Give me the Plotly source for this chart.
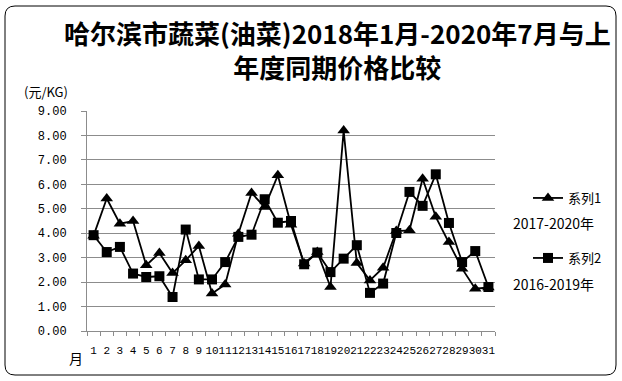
import plotly.graph_objects as go

months = list(range(1, 32))
month_labels = [str(m) for m in months]
series1_name = "系列1"
series2_name = "系列2"
series1 = [3.90, 5.42, 4.39, 4.50, 2.69, 3.19, 2.37, 2.89, 3.48, 1.53, 1.90, 3.98, 5.65, 5.07, 6.37, 4.35,
           2.76, 3.23, 1.80, 8.20, 2.78, 2.07, 2.59, 4.09, 4.12, 6.23, 4.67, 3.64, 2.55, 1.73, 1.78]
series2 = [3.92, 3.23, 3.44, 2.35, 2.21, 2.24, 1.39, 4.15, 2.11, 2.11, 2.82, 3.85, 3.94, 5.39, 4.43, 4.50,
           2.73, 3.21, 2.41, 2.96, 3.51, 1.56, 1.94, 4.01, 5.69, 5.12, 6.41, 4.42, 2.82, 3.27, 1.80]
y_ticks = [0, 1, 2, 3, 4, 5, 6, 7, 8, 9]

W, H = 622, 381
L, R, T, B = 87, 495, 111, 331


def px(X):
    return (X - L) / (R - L)


def py(Y):
    return (B - Y) / (B - T)


CJK = "Noto Sans CJK SC"
MONO = "Liberation Mono"

fig = go.Figure()
fig.add_trace(go.Scatter(
    x=months, y=series1, name=series1_name, mode="lines+markers",
    line=dict(color="black", width=1.8),
    marker=dict(symbol="triangle-up", size=11, color="black"),
    legend="legend",
))
fig.add_trace(go.Scatter(
    x=months, y=series2, name=series2_name, mode="lines+markers",
    line=dict(color="black", width=1.8),
    marker=dict(symbol="square", size=10, color="black"),
    legend="legend2",
))

grid = "#8c8c8c"
fig.update_layout(
    width=W, height=H,
    margin=dict(l=L, r=W - R, t=T, b=H - B, autoexpand=False),
    paper_bgcolor="white", plot_bgcolor="white",
    font=dict(family=CJK, color="black", size=12),
    showlegend=True,
    legend=dict(x=px(528), y=py(198), xanchor="left", yanchor="middle",
                font=dict(family=CJK, size=13, color="black"),
                bgcolor="rgba(0,0,0,0)", itemwidth=30),
    legend2=dict(x=px(528), y=py(258), xanchor="left", yanchor="middle",
                 font=dict(family=CJK, size=13, color="black"),
                 bgcolor="rgba(0,0,0,0)", itemwidth=30),
    xaxis=dict(
        range=[0.5, 31.5], tickmode="array", tickvals=months, ticktext=month_labels,
        tickangle=0, ticks="", showgrid=False, zeroline=False,
        showline=True, linecolor=grid, linewidth=1,
        tickfont=dict(family=MONO, size=11, color="black"),
        ticklabelstandoff=9,
        minor=dict(tickmode="linear", tick0=0.5, dtick=1, ticks="outside",
                   ticklen=4, tickcolor=grid, showgrid=False),
    ),
    yaxis=dict(
        range=[0, 9], tickmode="array", tickvals=y_ticks, tickformat=".2f",
        ticks="outside", ticklen=5, tickcolor=grid,
        showgrid=True, gridcolor=grid, gridwidth=1, zeroline=False,
        showline=True, linecolor=grid, linewidth=1,
        tickfont=dict(family=MONO, size=12, color="black"),
        ticklabelstandoff=12,
    ),
)

# outer rounded border
x0, x1, y0, y1, r = 5, 616, 6, 375, 10
path = (f"M {px(x0 + r)},{py(y0)} L {px(x1 - r)},{py(y0)} Q {px(x1)},{py(y0)} {px(x1)},{py(y0 + r)} "
        f"L {px(x1)},{py(y1 - r)} Q {px(x1)},{py(y1)} {px(x1 - r)},{py(y1)} "
        f"L {px(x0 + r)},{py(y1)} Q {px(x0)},{py(y1)} {px(x0)},{py(y1 - r)} "
        f"L {px(x0)},{py(y0 + r)} Q {px(x0)},{py(y0)} {px(x0 + r)},{py(y0)} Z")
fig.add_shape(type="path", path=path, xref="paper", yref="paper",
              line=dict(color="black", width=1), layer="above")

title1 = "哈尔滨市蔬菜(油菜)2018年1月-2020年7月与上"
title2 = "年度同期价格比较"
anns = [
    dict(text=f"<b>{title1}</b><br><b>{title2}</b>", x=px(337), y=py(49),
         font=dict(family=CJK, size=26)),
    dict(text="(元/KG)", x=px(46), y=py(91), font=dict(family=CJK, size=13)),
    dict(text="月", x=px(76), y=py(358), font=dict(family=CJK, size=14)),
    dict(text="2017-2020年", x=px(553), y=py(223), font=dict(family=CJK, size=14)),
    dict(text="2016-2019年", x=px(553), y=py(284), font=dict(family=CJK, size=14)),
]
for a in anns:
    fig.add_annotation(xref="paper", yref="paper", showarrow=False,
                       xanchor="center", yanchor="middle", **a)

fig.write_html("out.html", config={"displayModeBar": False},
               post_script="document.body.style.margin='0';document.body.style.overflow='hidden';")
